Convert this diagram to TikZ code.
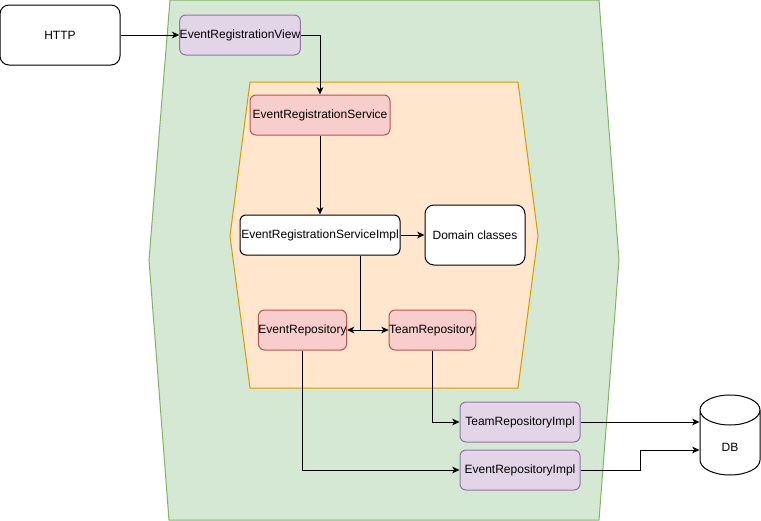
\documentclass[tikz,border=0pt]{standalone}
\usepackage{fontspec}
\setmainfont{Liberation Sans}
\usetikzlibrary{arrows.meta}
\definecolor{zonegreen}{HTML}{D5E8D4}
\definecolor{zonegreenline}{HTML}{82B366}
\definecolor{zoneorange}{HTML}{FFE6CC}
\definecolor{zoneorangeline}{HTML}{D79B00}
\definecolor{portfill}{HTML}{E1D5E7}
\definecolor{portline}{HTML}{9673A6}
\definecolor{corefill}{HTML}{F8CECC}
\definecolor{coreline}{HTML}{B85450}

\begin{document}
\begin{tikzpicture}[x=0.75pt, y=0.75pt, line width=0.75pt,
  every node/.style={font=\fontsize{9pt}{11pt}\selectfont, inner sep=0pt},
  box/.style={draw, rounded corners=4.5pt, minimum width=#1, minimum height=30pt},
  box/.default=90pt,
  adapter/.style={box=#1, fill=portfill, draw=portline},
  adapter/.default=90pt,
  port/.style={box=#1, fill=corefill, draw=coreline},
  port/.default=63.75pt,
  conn/.style={-{Stealth[length=5.5pt, width=5pt, inset=1.6pt]}}]
  \useasboundingbox (0,0) rectangle (761,-521);

  \draw[fill=zonegreen, draw=zonegreenline] (170,0) -- (599,0) -- (619,-260) -- (599,-520) -- (169,-520) -- (149,-260) -- cycle;
  \draw[fill=zoneorange, draw=zoneorangeline] (250,-82) -- (518,-82) -- (538,-236) -- (518,-388) -- (250,-388) -- (230,-236) -- cycle;

  \node[box, minimum height=45pt, rounded corners=6.75pt, fill=white] (http) at (60,-35) {HTTP};
  \node[adapter] (view) at (240,-35) {EventRegistrationView};
  \node[port=105pt] (service) at (320,-115) {EventRegistrationService};
  \node[box=120pt, fill=white] (impl) at (320,-235) {EventRegistrationServiceImpl};
  \node[box=75pt, minimum height=45pt, rounded corners=6.75pt, fill=white] (domain) at (475,-235) {Domain classes};
  \node[port] (evrepo) at (302.5,-330) {EventRepository};
  \node[port] (teamrepo) at (432.5,-330) {TeamRepository};
  \node[adapter] (teamimpl) at (520,-422) {TeamRepositoryImpl};
  \node[adapter] (evimpl) at (520,-470) {EventRepositoryImpl};
  \node[minimum width=45pt, minimum height=60pt] (db) at (730,-435) {};
  \draw[fill=white] (700,-410) -- (700,-460) arc[start angle=180, end angle=360, x radius=30, y radius=15]
    -- (760,-410) arc[start angle=0, end angle=180, x radius=30, y radius=15]
    arc[start angle=180, end angle=360, x radius=30, y radius=15];
  \node (dblabel) at (730,-447) {DB};

  \coordinate (split) at (360,-330);
  \coordinate (bend) at (640,-450);
  \draw[conn] (http.east) -- (view.west);
  \draw[conn] (view.east) -| (service.north);
  \draw[conn] (service.south) -- (impl.north);
  \draw[conn] (impl.east) -- (domain.west);
  \draw[conn] (impl.south -| split) |- (evrepo.east);
  \draw[conn] (impl.south -| split) |- (teamrepo.west);
  \draw[conn] (evrepo.south) |- (evimpl.west);
  \draw[conn] (teamrepo.south) |- (teamimpl.west);
  \draw[conn] (teamimpl.east) -- (teamimpl.east -| db.west);
  \draw[conn] (evimpl.east) -| (bend) -- (bend -| db.west);
\end{tikzpicture}
\end{document}
